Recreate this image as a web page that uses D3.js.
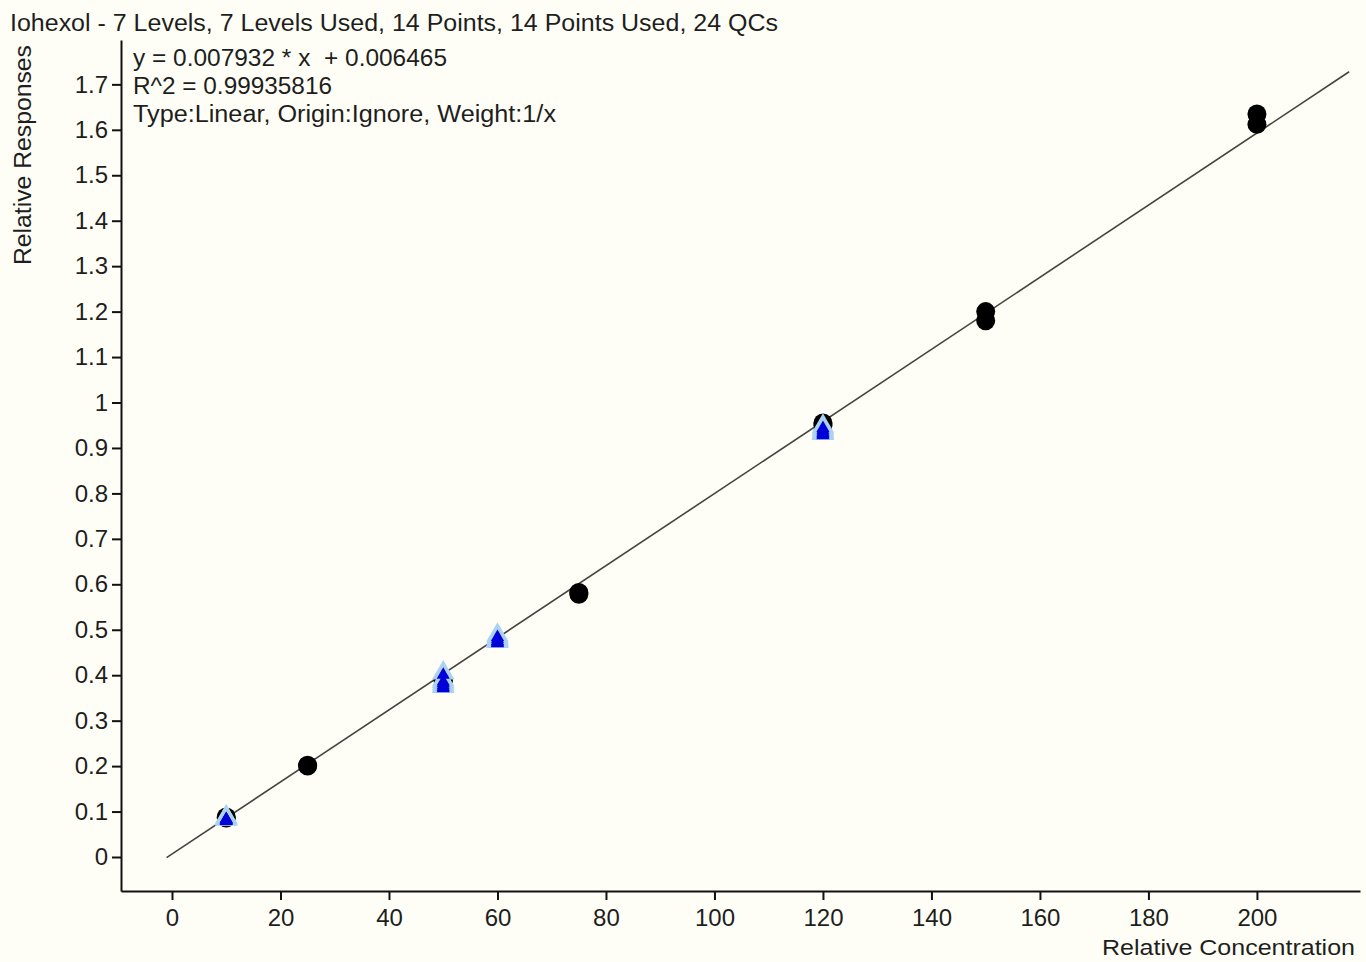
<!DOCTYPE html>
<html>
<head>
<meta charset="utf-8">
<script src="https://cdn.jsdelivr.net/npm/d3@7"></script>
<style>
  html, body { margin: 0; padding: 0; background: #fefef6; }
  svg { display: block; }
  text { font-family: "Liberation Sans", Arial, sans-serif; fill: #1e1e1e; white-space: pre; }
</style>
</head>
<body>
<svg id="chart" width="1366" height="962"></svg>
<script>
// chart data
const titleText = 'Iohexol - 7 Levels, 7 Levels Used, 14 Points, 14 Points Used, 24 QCs';
const fitLines = ['y = 0.007932 * x  + 0.006465', 'R^2 = 0.99935816', 'Type:Linear, Origin:Ignore, Weight:1/x'];
const slope = 0.007932;
const intercept = 0.006465;
const lineRange = [-1, 217];

// calibration standards (two replicates per level)
const stdConc = [10, 10, 25, 25, 50, 50, 75, 75, 120, 120, 150, 150, 200, 200];
const stdResp = [0.088, 0.086, 0.2, 0.202, 0.389, 0.386, 0.578, 0.582, 0.955, 0.95, 1.2, 1.18, 1.635, 1.612];

// QC samples
const qcConc = [10, 10, 10, 10, 10, 10, 50, 50, 50, 50, 50, 50, 60, 60, 60, 60, 60, 60, 120, 120, 120, 120, 120, 120];
const qcResp = [0.084, 0.086, 0.087, 0.088, 0.085, 0.083,
                0.405, 0.39, 0.386, 0.382, 0.378, 0.375,
                0.488, 0.484, 0.48, 0.478, 0.476, 0.474,
                0.948, 0.944, 0.94, 0.937, 0.934, 0.932];

const xTicks = [0, 20, 40, 60, 80, 100, 120, 140, 160, 180, 200];
const yTicks = [0, 0.1, 0.2, 0.3, 0.4, 0.5, 0.6, 0.7, 0.8, 0.9, 1, 1.1, 1.2, 1.3, 1.4, 1.5, 1.6, 1.7];
const yTickLabels = ['0', '0.1', '0.2', '0.3', '0.4', '0.5', '0.6', '0.7', '0.8', '0.9', '1', '1.1', '1.2', '1.3', '1.4', '1.5', '1.6', '1.7'];

const svg = d3.select('#chart');

const x = d3.scaleLinear().domain([-9.4, 219]).range([121, 1360]);
const y = d3.scaleLinear().domain([-0.0748, 1.7976]).range([891, 40]);

// axes
const xAxis = svg.append('g')
    .attr('transform', 'translate(0,' + y.range()[0] + ')')
    .call(d3.axisBottom(x).tickValues(xTicks).tickSize(9).tickSizeOuter(0).tickPadding(9));

const yAxis = svg.append('g')
    .attr('transform', 'translate(' + x.range()[0] + ',0)')
    .call(d3.axisLeft(y).tickValues(yTicks).tickSize(9).tickSizeOuter(0).tickPadding(4)
        .tickFormat((d, i) => yTickLabels[i]));

[xAxis, yAxis].forEach(a => {
    a.select('.domain').attr('stroke', '#111').attr('stroke-width', 2);
    a.selectAll('.tick line').attr('stroke', '#111').attr('stroke-width', 2);
    a.selectAll('.tick text')
        .style('font-family', '"Liberation Sans", Arial, sans-serif')
        .style('font-size', '24px')
        .attr('fill', '#1e1e1e');
});

// regression line
svg.append('line')
    .attr('x1', x(lineRange[0]))
    .attr('y1', y(slope * lineRange[0] + intercept))
    .attr('x2', x(lineRange[1]))
    .attr('y2', y(slope * lineRange[1] + intercept))
    .attr('stroke', '#444')
    .attr('stroke-width', 1.6);

// standards
svg.append('g').selectAll('circle')
    .data(stdConc)
    .join('circle')
    .attr('cx', d => x(d))
    .attr('cy', (d, i) => y(stdResp[i]))
    .attr('r', 9.5)
    .attr('fill', '#000');

// QCs: light blue outer triangle, dark blue inner
const outerTri = d3.symbol().type(d3.symbolTriangle).size(220);
const innerTri = d3.symbol().type(d3.symbolTriangle).size(75);
const qcIdx = d3.range(qcConc.length);

svg.append('g').selectAll('path')
    .data(qcIdx)
    .join('path')
    .attr('transform', i => 'translate(' + x(qcConc[i]) + ',' + y(qcResp[i]) + ')')
    .attr('d', outerTri)
    .attr('fill', '#acd2f2');

svg.append('g').selectAll('path')
    .data(qcIdx)
    .join('path')
    .attr('transform', i => 'translate(' + x(qcConc[i]) + ',' + (y(qcResp[i]) + 2) + ')')
    .attr('d', innerTri)
    .attr('fill', '#0000d8');

// title and fit info
svg.append('text')
    .attr('x', 10).attr('y', 31)
    .attr('font-size', 23)
    .attr('textLength', 768).attr('lengthAdjust', 'spacingAndGlyphs')
    .text(titleText);

const fitWidths = [314, 199, 423];
svg.append('g').selectAll('text')
    .data(fitLines)
    .join('text')
    .attr('x', 133)
    .attr('y', (d, i) => 66 + i * 28)
    .attr('font-size', 23)
    .attr('textLength', (d, i) => fitWidths[i]).attr('lengthAdjust', 'spacingAndGlyphs')
    .text(d => d);

// axis titles
svg.append('text')
    .attr('x', 1102).attr('y', 955)
    .attr('font-size', 22)
    .attr('textLength', 253).attr('lengthAdjust', 'spacingAndGlyphs')
    .text('Relative Concentration');

svg.append('text')
    .attr('transform', 'translate(31,265) rotate(-90)')
    .attr('font-size', 23)
    .attr('textLength', 220).attr('lengthAdjust', 'spacingAndGlyphs')
    .text('Relative Responses');
</script>
</body>
</html>
